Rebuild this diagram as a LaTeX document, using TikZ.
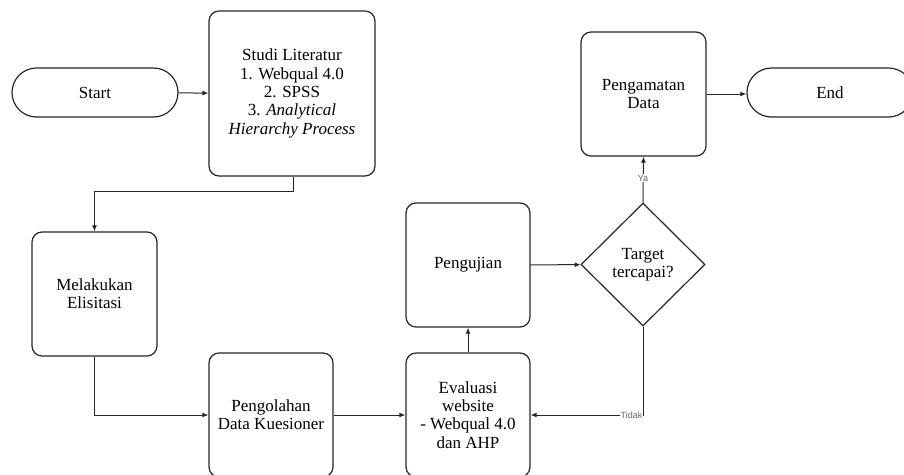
\documentclass[tikz,border=0pt]{standalone}
\usepackage{fontspec}
\setmainfont{Liberation Serif}
\newfontfamily\lblfont{Liberation Sans}
\usetikzlibrary{shapes.geometric,arrows.meta}
\begin{document}
\begin{tikzpicture}[x=1pt,y=-1pt,
  base/.style={draw=black!85,line width=1.2pt,align=center,font=\fontsize{17}{18.3}\selectfont,inner sep=0pt},
  box/.style={base,rounded corners=10pt,minimum width=124pt,minimum height=124pt},
  term/.style={base,rounded corners=24.5pt,minimum width=166pt,minimum height=49pt},
  dec/.style={base,diamond,minimum width=124pt,minimum height=123pt},
  conn/.style={draw=black!85,line width=1pt,-{Latex[length=6pt,width=5pt]}},
  lbl/.style={font=\lblfont\fontsize{9}{10}\selectfont,text=black!60,inner sep=0.5pt}
]
\useasboundingbox (0,0) rectangle (904,474);
\clip (0,0) rectangle (904,474);
\node[term] (start) at (95,92.5) {Start};
\node[box,minimum width=166pt,minimum height=165pt] (studi) at (292,93.5) {Studi Literatur\\1. Webqual 4.0\\2. SPSS\\3. \textit{Analytical}\\\textit{Hierarchy Process}};
\node[box,minimum width=125pt] (elis) at (94.5,294) {Melakukan\\Elisitasi};
\node[box] (olah) at (271,415) {Pengolahan\\Data Kuesioner};
\node[box] (eval) at (468,415) {Evaluasi\\website\\- Webqual 4.0\\dan AHP};
\node[box] (uji) at (468,265) {Pengujian};
\node[dec] (dec) at (643,264.5) {Target\\tercapai?};
\node[box,minimum width=125pt] (amat) at (643.5,94) {Pengamatan\\Data};
\node[term] (end) at (830,92.5) {End};
\coordinate (c1) at (293,191);
\coordinate (c2) at (643,415);
\draw[conn] (start) -- (studi);
\draw[conn] (studi.south -| c1) -- (c1) -| (elis.north);
\draw[conn] (elis.south) |- (olah.west);
\draw[conn] (olah) -- (eval);
\draw[conn] (eval) -- (uji);
\draw[conn] (uji) -- (dec);
\draw[conn] (dec.south) -- (c2) -- (eval.east |- c2);
\draw[conn] (dec.north) -- (amat.south);
\draw[conn] (amat.east) -- (end.west |- amat.east);
\node[lbl,fill=white,anchor=east] at (c2) {Tidak};
\node[lbl,fill=white] at (643,178) {Ya};
\end{tikzpicture}
\end{document}
